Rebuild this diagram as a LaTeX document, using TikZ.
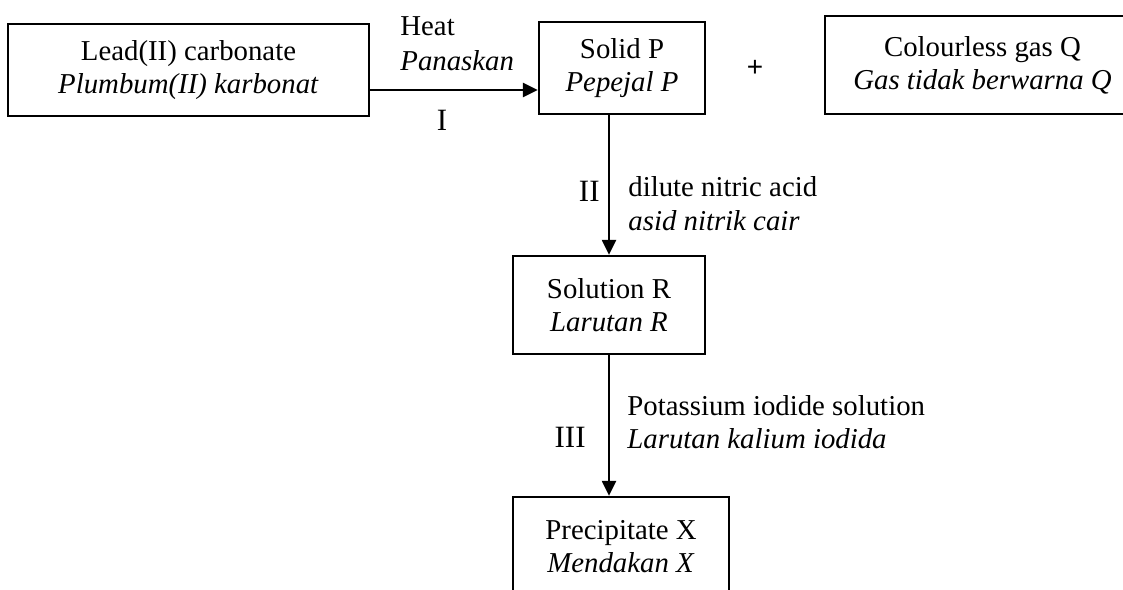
\documentclass[tikz,border=0pt]{standalone}
\usepackage{fontspec}
\setmainfont{Liberation Serif}
\newfontfamily\plusfont{Liberation Sans}
\usetikzlibrary{arrows.meta}
\begin{document}
\begin{tikzpicture}[x=0.5pt,y=-0.5pt,
  box/.style={draw, line width=1.15pt, inner sep=0pt, align=center, font=\fontsize{14.4}{16.5}\selectfont},
  lbl/.style={inner sep=0pt, anchor=base west, font=\fontsize{14.4}{16.5}\selectfont},
  num/.style={inner sep=0pt, font=\fontsize{15.5}{18}\selectfont},
  conn/.style={line width=1.15pt, -{Triangle[length=7.5pt,width=7pt]}}]
\useasboundingbox (0,0) rectangle (1123,589);
\clip (0,0) rectangle (1123,589);
% boxes
\node[box, minimum width=180.5pt, minimum height=46pt] (lead) at (188.5,70)
  {Lead(II) carbonate\\\textit{Plumbum(II) karbonat}};
\node[box, minimum width=83pt, minimum height=46pt] (solid) at (622,68)
  {Solid P\\\textit{Pepejal P}};
\node[box, minimum width=157.5pt, minimum height=49pt] (gas) at (982.5,65)
  {Colourless gas Q\\\textit{Gas tidak berwarna Q}};
\node[box, minimum width=96pt, minimum height=49pt] (sol) at (609,305)
  {Solution R\\\textit{Larutan R}};
\node[box, minimum width=108pt, minimum height=49.5pt] (ppt) at (621,546.5)
  {Precipitate X\\\textit{Mendakan X}};
\node[inner sep=0pt, font=\plusfont\fontsize{14}{16}\selectfont] (plus) at (755,68) {+};
% helper coordinates
\coordinate (ay) at (0,90);
\coordinate (vx) at (609,0);
% connectors
\draw[conn] (lead.east |- ay) -- (solid.west |- ay);
\draw[conn] (solid.south -| vx) -- (sol.north);
\draw[conn] (sol.south) -- (ppt.north -| vx);
% labels
\node[lbl] (heat) at (400,35) {Heat};
\node[lbl] (panas) at (400,70) {\textit{Panaskan}};
\node[num, anchor=base] (n1) at (442,130) {I};
\node[num, anchor=base east] (n2) at (600,201) {II};
\node[lbl] (dil) at (628,196) {dilute nitric acid};
\node[lbl] (asid) at (628,230) {\textit{asid nitrik cair}};
\node[num, anchor=base east] (n3) at (586,447) {III};
\node[lbl] (pot) at (627,415) {Potassium iodide solution};
\node[lbl] (lar) at (627,448) {\textit{Larutan kalium iodida}};
\end{tikzpicture}
\end{document}
